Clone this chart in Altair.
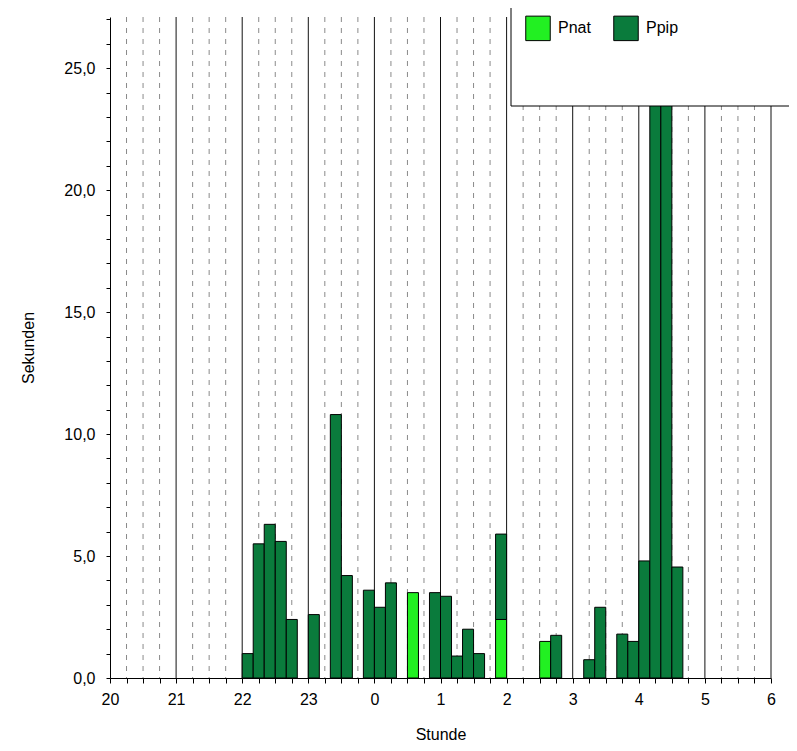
import altair as alt
import pandas as pd

# 10-minute bins (start time), seconds per bin
ppip_times = ["22:00", "22:10", "22:20", "22:30", "22:40", "23:00", "23:20", "23:30",
              "23:50", "0:00", "0:10", "0:50", "1:00", "1:10", "1:20", "1:30",
              "1:50", "2:40", "3:10", "3:20", "3:40", "3:50", "4:00", "4:10",
              "4:20", "4:30"]
ppip_values = [1.0, 5.5, 6.3, 5.6, 2.4, 2.6, 10.8, 4.2,
               3.6, 2.9, 3.9, 3.5, 3.35, 0.9, 2.0, 1.0,
               3.5, 1.75, 0.75, 2.9, 1.8, 1.5, 4.8, 32.0,
               30.0, 4.55]
pnat_times = ["0:30", "1:50", "2:30"]
pnat_values = [3.5, 2.4, 1.5]

hour_labels = [20, 21, 22, 23, 0, 1, 2, 3, 4, 5, 6]

def to_hours(s):
    h, m = s.split(":")
    return ((int(h) - 20) % 24) + int(m) / 60.0

# stack Pnat below Ppip within each bin
base = {}
rows = []
for art, times, vals in (("Pnat", pnat_times, pnat_values), ("Ppip", ppip_times, ppip_values)):
    for t, v in zip(times, vals):
        s = to_hours(t)
        lo = base.get(t, 0.0)
        rows.append({"start": s, "end": s + 1 / 6, "Art": art, "Sekunden": v,
                     "lo": lo, "hi": lo + v})
        base[t] = lo + v
df = pd.DataFrame(rows)

n_hours = len(hour_labels) - 1
hour_lines = pd.DataFrame({"x": list(range(1, n_hours + 1))})
quarter_lines = pd.DataFrame({"x": [i / 4 for i in range(n_hours * 4 + 1) if i % 4 != 0]})

FONT = "Liberation Sans"
FS = 16
xscale = alt.Scale(domain=[0, n_hours], nice=False, zero=False)
xaxis = alt.Axis(
    values=[i / 4 for i in range(n_hours * 4 + 1)],
    labelExpr="datum.value % 1 === 0 ? '' + ((datum.value + 20) % 24) : ''",
    grid=False,
    tickSize=5,
    labelPadding=8,
    labelFlush=False,
    labelOverlap=False,
    titleY=61,
    titleBaseline="alphabetic",
)

quarters = alt.Chart(quarter_lines).mark_rule(
    color="#8a8a8a", strokeWidth=1, strokeDash=[5, 6]
).encode(x=alt.X("x:Q", scale=xscale, axis=xaxis, title="Stunde"))

hours = alt.Chart(hour_lines).mark_rule(color="#111111", strokeWidth=1).encode(
    x=alt.X("x:Q", scale=xscale, axis=xaxis, title="Stunde")
)

bars = alt.Chart(df).mark_rect(stroke="black", strokeWidth=1, clip=True).encode(
    x=alt.X("start:Q", scale=xscale, axis=xaxis, title="Stunde"),
    x2="end:Q",
    y=alt.Y(
        "lo:Q",
        scale=alt.Scale(domain=[0, 27.1], nice=False),
        title="Sekunden",
        axis=alt.Axis(
            values=list(range(0, 28)),
            labelExpr="datum.value % 5 === 0 ? replace(format(datum.value, '.1f'), '.', ',') : ''",
            grid=False,
            tickSize=4,
            labelPadding=11,
            labelOverlap=False,
            titleX=-77,
            titleBaseline="alphabetic",
        ),
    ),
    y2="hi:Q",
    color=alt.Color(
        "Art:N",
        scale=alt.Scale(domain=["Pnat", "Ppip"], range=["#22F022", "#0A7B3C"]),
        legend=alt.Legend(
            title=None,
            orient="none",
            legendX=415,
            legendY=-2,
            direction="horizontal",
            symbolType="square",
            symbolSize=600,
            symbolStrokeColor="black",
            symbolStrokeWidth=1,
            symbolOpacity=1,
            labelFontSize=FS,
            labelFont=FONT,
            labelColor="black",
            labelOffset=7,
            columnPadding=20,
            padding=0,
        ),
    ),
)

legend_box = alt.Chart(pd.DataFrame({"k": [0]})).mark_rect(
    fill="white", stroke="black", strokeWidth=1, clip=False
).encode(
    x=alt.value(401), x2=alt.value(720), y=alt.value(-30), y2=alt.value(89)
)

chart = alt.layer(quarters, hours, bars, legend_box).properties(
    width=661,
    height=661,
    autosize=alt.AutoSizeParams(type="none"),
    padding={"left": 102, "top": 9, "right": 18, "bottom": 65},
    background="white",
).configure_view(stroke=None).configure_axis(
    domainColor="black",
    tickColor="black",
    labelColor="black",
    titleColor="black",
    labelFont=FONT,
    titleFont=FONT,
    labelFontSize=FS,
    titleFontSize=FS,
    titleFontWeight="normal",
)

chart.save("out.html", embed_options={"renderer": "svg", "actions": False})
